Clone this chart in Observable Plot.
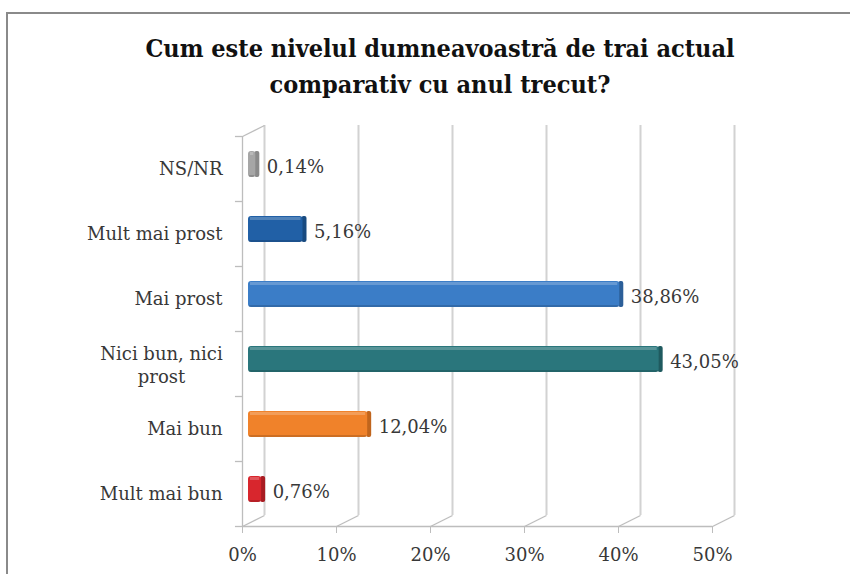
<!DOCTYPE html>
<html>
<head>
<meta charset="utf-8">
<script src="https://cdn.jsdelivr.net/npm/d3@7"></script>
<script src="https://cdn.jsdelivr.net/npm/@observablehq/plot@0.6"></script>
<style>
  html, body { margin: 0; padding: 0; background: #fff; }
  #wrap { position: relative; width: 850px; height: 574px; overflow: hidden; }
  #frame { position: absolute; left: 6px; top: 12px; width: 900px; height: 700px;
           border-top: 2px solid #8a8a8a; border-left: 2px solid #8a8a8a; }
  #title { position: absolute; left: 0; top: 31px; width: 880px; text-align: center;
           font-family: "DejaVu Serif Condensed", "DejaVu Serif", serif; font-weight: bold;
           font-size: 25px; line-height: 36px; color: #111; }
  #chart { position: absolute; left: 0; top: 0; }
</style>
</head>
<body>
<div id="wrap">
  <div id="frame"></div>
  <div id="chart"></div>
  <div id="title">Cum este nivelul dumneavoastră de trai actual<br>comparativ cu anul trecut?</div>
</div>
<script>
const categories = ["NS/NR", "Mult mai prost", "Mai prost", "Nici bun, nici prost", "Mai bun", "Mult mai bun"];
const values = [0.14, 5.16, 38.86, 43.05, 12.04, 0.76];
const valueLabels = ["0,14%", "5,16%", "38,86%", "43,05%", "12,04%", "0,76%"];
const barColors = ["#a6a6a6", "#2160a6", "#3b7dc7", "#2a767c", "#f0822a", "#d8262d"];
const sideColors = ["#8a8a8a", "#184a80", "#2c5f99", "#1f5a5f", "#c0651d", "#a81c22"];
const xTicks = [0, 10, 20, 30, 40, 50];
const xTickLabels = ["0%", "10%", "20%", "30%", "40%", "50%"];

const rows = categories.map((c, i) => ({c, i, v: values[i], label: valueLabels[i], color: barColors[i], side: sideColors[i]}));
const wrapped = "Nici bun, nici prost";

const depthX = 22 / 9.4;   // back-wall offset in % units
const depthY = 11 / 65;    // back-wall offset in category units
const grid = "#d2d2d2";
const axisGray = "#bdbdbd";
const textGray = "#383838";

const chart = Plot.plot({
  width: 850,
  height: 574,
  marginLeft: 242,
  marginRight: 138,
  marginTop: 136,
  marginBottom: 48,
  style: {fontFamily: "DejaVu Serif", fontSize: "18px", color: textGray, background: "transparent"},
  x: {domain: [0, 50]},
  y: {domain: [6, 0]},
  marks: [
    Plot.ruleX(xTicks, {x: d => d, y1: 0, y2: 6, dx: 22, dy: -11, stroke: grid, strokeWidth: 2}),
    Plot.link(xTicks, {x1: d => d, y1: 6, x2: d => d + depthX, y2: 6 - depthY, stroke: axisGray, strokeWidth: 1.3}),
    Plot.link([0], {x1: 0, y1: 0, x2: depthX, y2: -depthY, stroke: axisGray, strokeWidth: 1.3}),
    Plot.ruleX([0], {y1: 0, y2: 6, stroke: axisGray, strokeWidth: 1.3}),
    Plot.ruleY([6], {x1: 0, x2: 50, stroke: axisGray, strokeWidth: 1.3}),
    Plot.ruleY(d3.range(7), {y: d => d, x1: -0.75, x2: 0, stroke: axisGray, strokeWidth: 1.3}),
    Plot.rect(rows, {x1: "v", x2: "v", y1: "i", y2: d => d.i + 1, insetLeft: 11, insetRight: -16, insetTop: 15, insetBottom: 24, fill: "side", rx: 2}),
    Plot.rect(rows, {x1: 0, x2: "v", y1: "i", y2: d => d.i + 1, insetLeft: 6, insetRight: -12, insetTop: 15, insetBottom: 24, fill: "color", rx: 3}),
    Plot.rect(rows, {x1: 0, x2: "v", y1: "i", y2: d => d.i + 1, insetLeft: 8, insetRight: -10, insetTop: 16, insetBottom: 46, fill: "white", fillOpacity: 0.22}),
    Plot.rect(rows, {x1: 0, x2: "v", y1: "i", y2: d => d.i + 1, insetLeft: 7, insetRight: -11, insetTop: 39, insetBottom: 24, fill: "black", fillOpacity: 0.15}),
    Plot.text(rows, {x: "v", y: d => d.i + 0.5, text: "label", dx: 23, dy: -2, textAnchor: "start", fill: textGray, fontSize: 18}),
    Plot.axisX({ticks: xTicks, tickFormat: d => xTickLabels[xTicks.indexOf(d)], tickSize: 7, tickPadding: 15, stroke: axisGray, fill: textGray, fontSize: 18, label: null}),
    Plot.axisY({ticks: d3.range(6).map(i => i + 0.5), tickFormat: d => { const c = categories[Math.floor(d)]; return c === wrapped ? "" : c; },
      tickSize: 0, tickPadding: 20, fill: textGray, fontSize: 18, label: null}),
    Plot.text(rows.filter(d => d.c === wrapped), {x: 0, y: d => d.i + 0.5, text: () => "Nici bun, nici\nprost", textAnchor: "middle", dx: -81, lineHeight: 1.28, fill: textGray, fontSize: 18})
  ]
});
document.getElementById("chart").appendChild(chart);
</script>
</body>
</html>
